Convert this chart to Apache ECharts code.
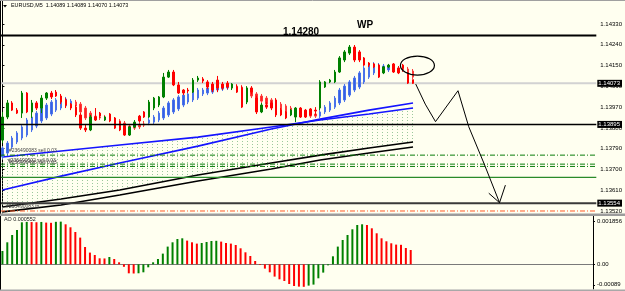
<!DOCTYPE html>
<html>
<head>
<meta charset="utf-8">
<script src="https://cdn.jsdelivr.net/npm/echarts@6/dist/echarts.min.js"></script>
<style>
html, body { margin: 0; padding: 0; background: #fffff0; }
#chart { width: 625px; height: 291px; }
</style>
</head>
<body>
<div id="chart"></div>
<script>
// EURUSD M5 bars, [open, close, low, high]
var priceBars = [
	[1.13827, 1.13927, 1.13814, 1.13949], [1.13927, 1.13988, 1.13918, 1.14001], [1.13988, 1.13957, 1.13953, 1.13996],
	[1.13957, 1.13944, 1.13940, 1.13966], [1.13944, 1.14031, 1.13923, 1.14040], [1.14031, 1.13949, 1.13944, 1.14035],
	[1.13949, 1.13988, 1.13923, 1.14001], [1.13988, 1.13966, 1.13957, 1.13996], [1.13966, 1.14009, 1.13944, 1.14022],
	[1.14009, 1.14031, 1.14001, 1.14035], [1.14031, 1.14014, 1.14005, 1.14040], [1.14035, 1.14018, 1.14014, 1.14044],
	[1.14018, 1.13992, 1.13983, 1.14027], [1.14001, 1.13979, 1.13966, 1.14009], [1.13983, 1.13966, 1.13957, 1.13988],
	[1.13970, 1.13936, 1.13927, 1.13979], [1.13936, 1.13879, 1.13871, 1.13944], [1.13879, 1.13871, 1.13862, 1.13897],
	[1.13871, 1.13927, 1.13866, 1.13936], [1.13927, 1.13914, 1.13910, 1.13966], [1.13944, 1.13931, 1.13923, 1.13949],
	[1.13914, 1.13927, 1.13910, 1.13931], [1.13940, 1.13910, 1.13905, 1.13944], [1.13923, 1.13879, 1.13875, 1.13927],
	[1.13905, 1.13871, 1.13866, 1.13910], [1.13888, 1.13849, 1.13845, 1.13897], [1.13849, 1.13884, 1.13845, 1.13888],
	[1.13884, 1.13905, 1.13879, 1.13914], [1.13931, 1.13910, 1.13905, 1.13936], [1.13949, 1.13927, 1.13923, 1.13953],
	[1.13927, 1.13992, 1.13923, 1.14001], [1.13966, 1.14009, 1.13957, 1.14014], [1.13979, 1.14014, 1.13970, 1.14018],
	[1.14014, 1.14100, 1.14009, 1.14118], [1.14100, 1.14122, 1.14096, 1.14131], [1.14122, 1.14066, 1.14061, 1.14131],
	[1.14066, 1.14031, 1.14027, 1.14079], [1.14044, 1.14031, 1.14022, 1.14048], [1.14044, 1.14040, 1.14031, 1.14053],
	[1.14035, 1.14087, 1.14031, 1.14096], [1.14087, 1.14096, 1.14079, 1.14105], [1.14092, 1.14083, 1.14074, 1.14100],
	[1.14079, 1.14057, 1.14048, 1.14087], [1.14070, 1.14044, 1.14035, 1.14079], [1.14087, 1.14053, 1.14035, 1.14105],
	[1.14070, 1.14053, 1.14044, 1.14079], [1.14074, 1.14057, 1.14048, 1.14083], [1.14053, 1.14070, 1.14044, 1.14074],
	[1.14057, 1.14035, 1.14031, 1.14066], [1.14053, 1.13970, 1.13966, 1.14061], [1.13992, 1.14053, 1.13983, 1.14061],
	[1.14053, 1.14035, 1.14027, 1.14061], [1.14009, 1.13949, 1.13940, 1.14018], [1.13949, 1.13979, 1.13944, 1.13988],
	[1.13979, 1.13970, 1.13962, 1.13992], [1.13988, 1.13966, 1.13957, 1.13996], [1.14001, 1.13936, 1.13927, 1.14009],
	[1.13957, 1.13936, 1.13931, 1.13966], [1.13949, 1.13923, 1.13918, 1.13953], [1.13936, 1.13957, 1.13931, 1.13962],
	[1.13927, 1.13966, 1.13905, 1.13970], [1.13966, 1.13927, 1.13923, 1.13970], [1.13957, 1.13927, 1.13923, 1.13962],
	[1.13962, 1.13936, 1.13931, 1.13966], [1.13957, 1.13953, 1.13936, 1.13970], [1.13966, 1.14079, 1.13957, 1.14087],
	[1.14057, 1.14079, 1.14053, 1.14083], [1.14079, 1.14087, 1.14074, 1.14092], [1.14079, 1.14122, 1.14074, 1.14131],
	[1.14122, 1.14183, 1.14118, 1.14191], [1.14174, 1.14209, 1.14165, 1.14217], [1.14204, 1.14230, 1.14196, 1.14239],
	[1.14230, 1.14174, 1.14165, 1.14239], [1.14209, 1.14174, 1.14165, 1.14217], [1.14183, 1.14152, 1.14148, 1.14187],
	[1.14161, 1.14152, 1.14144, 1.14165], [1.14157, 1.14144, 1.14139, 1.14161], [1.14152, 1.14100, 1.14096, 1.14157],
	[1.14118, 1.14144, 1.14113, 1.14148], [1.14144, 1.14152, 1.14139, 1.14157], [1.14157, 1.14122, 1.14118, 1.14161],
	[1.14139, 1.14118, 1.14113, 1.14148], [1.14152, 1.14139, 1.14131, 1.14157], [1.14118, 1.14074, 1.14070, 1.14122],
	[1.14089, 1.14073, 1.14070, 1.14089]
];

// smoothed heiken ashi bars (blue up / red down), [open, close, low, high]
var haBars = [
	[1.13754, 1.13793, 1.13745, 1.13801], [1.13771, 1.13814, 1.13762, 1.13823], [1.13797, 1.13836, 1.13789, 1.13845],
	[1.13819, 1.13858, 1.13810, 1.13866], [1.13836, 1.13884, 1.13827, 1.13892], [1.13849, 1.13914, 1.13840, 1.13923],
	[1.13871, 1.13927, 1.13862, 1.13936], [1.13888, 1.13944, 1.13879, 1.13953], [1.13910, 1.13966, 1.13901, 1.13975],
	[1.13923, 1.13979, 1.13914, 1.13988], [1.13940, 1.13992, 1.13931, 1.14001], [1.13957, 1.14001, 1.13949, 1.14009],
	[1.13966, 1.14009, 1.13957, 1.14018], [1.13975, 1.14005, 1.13966, 1.14014], [1.13983, 1.13996, 1.13975, 1.14005],
	[1.13992, 1.13975, 1.13966, 1.14001], [1.13983, 1.13949, 1.13940, 1.13992], [1.13966, 1.13923, 1.13914, 1.13975],
	[1.13944, 1.13914, 1.13905, 1.13953], [1.13931, 1.13918, 1.13910, 1.13940], [1.13927, 1.13923, 1.13914, 1.13936],
	[1.13927, 1.13918, 1.13910, 1.13936], [1.13923, 1.13914, 1.13905, 1.13931], [1.13918, 1.13901, 1.13892, 1.13927],
	[1.13910, 1.13888, 1.13879, 1.13918], [1.13901, 1.13875, 1.13866, 1.13910], [1.13888, 1.13879, 1.13871, 1.13897],
	[1.13884, 1.13879, 1.13871, 1.13892], [1.13892, 1.13884, 1.13875, 1.13905], [1.13897, 1.13892, 1.13884, 1.13910],
	[1.13901, 1.13914, 1.13892, 1.13923], [1.13905, 1.13927, 1.13897, 1.13936], [1.13914, 1.13944, 1.13905, 1.13953],
	[1.13923, 1.13966, 1.13914, 1.13975], [1.13936, 1.13988, 1.13927, 1.13996], [1.13949, 1.14001, 1.13940, 1.14009],
	[1.13962, 1.14014, 1.13953, 1.14022], [1.13979, 1.14022, 1.13970, 1.14031], [1.13992, 1.14027, 1.13983, 1.14035],
	[1.14001, 1.14035, 1.13992, 1.14044], [1.14009, 1.14044, 1.14001, 1.14053], [1.14027, 1.14044, 1.14018, 1.14053],
	[1.14031, 1.14053, 1.14022, 1.14061], [1.14035, 1.14057, 1.14027, 1.14066], [1.14044, 1.14057, 1.14035, 1.14066],
	[1.14048, 1.14057, 1.14040, 1.14066], [1.14053, 1.14066, 1.14044, 1.14074], [1.14061, 1.14053, 1.14044, 1.14070],
	[1.14061, 1.14048, 1.14040, 1.14070], [1.14057, 1.14031, 1.14022, 1.14066], [1.14044, 1.14022, 1.14014, 1.14053],
	[1.14035, 1.14018, 1.14009, 1.14044], [1.14027, 1.14001, 1.13992, 1.14035], [1.14018, 1.13996, 1.13988, 1.14027],
	[1.14009, 1.13983, 1.13975, 1.14018], [1.14001, 1.13975, 1.13966, 1.14009], [1.13992, 1.13966, 1.13957, 1.14001],
	[1.13983, 1.13953, 1.13944, 1.13992], [1.13975, 1.13949, 1.13940, 1.13983], [1.13966, 1.13944, 1.13936, 1.13975],
	[1.13957, 1.13940, 1.13931, 1.13966], [1.13953, 1.13936, 1.13927, 1.13962], [1.13949, 1.13931, 1.13923, 1.13957],
	[1.13944, 1.13931, 1.13923, 1.13953], [1.13940, 1.13931, 1.13923, 1.13949], [1.13931, 1.13949, 1.13923, 1.13957],
	[1.13949, 1.13970, 1.13940, 1.13979], [1.13957, 1.13988, 1.13949, 1.13996], [1.13970, 1.14009, 1.13962, 1.14018],
	[1.13988, 1.14044, 1.13979, 1.14053], [1.14001, 1.14061, 1.13992, 1.14070], [1.14022, 1.14079, 1.14014, 1.14087],
	[1.14044, 1.14096, 1.14035, 1.14105], [1.14057, 1.14118, 1.14048, 1.14126], [1.14079, 1.14139, 1.14070, 1.14148],
	[1.14100, 1.14152, 1.14092, 1.14161], [1.14118, 1.14157, 1.14109, 1.14165], [1.14122, 1.14152, 1.14113, 1.14161],
	[1.14126, 1.14148, 1.14118, 1.14157], [1.14131, 1.14148, 1.14122, 1.14157], [1.14131, 1.14144, 1.14122, 1.14152],
	[1.14131, 1.14139, 1.14122, 1.14148], [1.14139, 1.14131, 1.14122, 1.14148], [1.14135, 1.14113, 1.14105, 1.14144],
	[1.14126, 1.14100, 1.14092, 1.14135]
];

// awesome oscillator
var aoValues = [
	0.00058, 0.000957, 0.001275, 0.001492, 0.001827, 0.001845, 0.001838, 0.00183, 0.001842, 0.001814,
	0.001805, 0.001848, 0.001856, 0.00174, 0.00161, 0.001405, 0.001161, 0.000753, 0.000509, 0.000405,
	0.000261, 0.000255, 0.000318, 0.000231, 0.000087, -0.000109, -0.000392, -0.0004, -0.00039, -0.000348,
	-0.000131, 0.000087, 0.000231, 0.000465, 0.00077, 0.000957, 0.0011, 0.001131, 0.001031, 0.000957,
	0.0009, 0.000927, 0.00097, 0.001014, 0.001022, 0.000987, 0.000927, 0.0009, 0.00084, 0.000696,
	0.000522, 0.000361, 0.000144, -0.00003, -0.000187, -0.000348, -0.000535, -0.000653, -0.000726, -0.000857,
	-0.000944, -0.00097, -0.000979, -0.000927, -0.000883, -0.000609, -0.000361, -0.000044, 0.000348, 0.00077,
	0.001057, 0.001275, 0.001523, 0.00171, 0.00174, 0.00171, 0.001566, 0.001349, 0.001131, 0.001001,
	0.000914, 0.000857, 0.000848, 0.000709, 0.000622
];

// moving averages, read at a few bars
var maBars = [0, 12, 24, 40, 55, 65, 75, 84];
var maBlueFast = [1.13611, 1.13671, 1.13728, 1.13801, 1.13875, 1.13918, 1.13957, 1.13988];
var maBlueSlow = [1.13754, 1.13780, 1.13806, 1.13840, 1.13884, 1.13914, 1.13940, 1.13966];
var maBlackFast = [1.13537, 1.13572, 1.13611, 1.13676, 1.13728, 1.13762, 1.13793, 1.13819];
var maBlackSlow = [1.13516, 1.13546, 1.13589, 1.13650, 1.13702, 1.13741, 1.13771, 1.13797];

// horizontal levels
var levelWP = 1.14280;
var currentPrice = 1.14073;
var supportLevel = 1.13895;
var sellLevels = [1.13762, 1.13723, 1.13713];
var greenLevel = 1.13666;
var tpBox = 1.13554;
var tpLine = 1.13520;

var priceTicks = [1.14330, 1.14240, 1.14150, 1.14060, 1.13970, 1.13880, 1.13790, 1.13700, 1.13610, 1.13520];
var aoTicks = [0.001856, 0, -0.00089];
var aoTickText = ['0.001856', '0.00', '-0.00089'];

// hand drawn path, [bar, price]
var drawPath = [[84.55, 1.14070], [86.5, 1.13983], [88.6, 1.13907], [93.2, 1.14041], [95.4, 1.13885], [98.5, 1.13727], [101.7, 1.13556]];
var drawHead = [[99.5, 1.13597], [101.7, 1.13556], [102.9, 1.13632]];
var ringAt = [84.9, 1.14150];

var slotCount = 122;
var slots = [];
for (var s = 0; s < slotCount; s++) slots.push(String(s));

var bg = '#fffff0';
var smallFont = 'Liberation Sans';

function pairs(xs, ys) {
	return xs.map(function(x, k) { return [x, ys[k]]; });
}

// dotted green hatch under the slow blue line
var dots = document.createElement('canvas');
dots.width = 5; dots.height = 3;
var dctx = dots.getContext('2d');
dctx.fillStyle = '#9cc89c';
dctx.fillRect(2, 0, 1, 1);

// a horizontal level across the whole price pane, optional price box at the right
function level(value, color, width, type, z, box) {
	var ser = {
		type: 'line', xAxisIndex: 2, yAxisIndex: 0, z: z,
		data: [[-0.5, value], [slotCount - 0.5, value]],
		showSymbol: false, silent: true,
		lineStyle: { color: color, width: width, type: type }
	};
	if (box) {
		ser.endLabel = {
			show: true, distance: 1,
			formatter: value.toFixed(5),
			backgroundColor: '#000', color: '#fff',
			fontSize: 6, fontFamily: smallFont, padding: [1, 2, 0, 1]
		};
	}
	return ser;
}

var dashDot = [5, 2, 1, 2];

var chart = echarts.init(document.getElementById('chart'));
var option = {
	backgroundColor: bg,
	animation: false,
	grid: [
		{ left: 0, right: 25, top: 0, height: 213 },
		{ left: 0, right: 25, top: 216, height: 73 }
	],
	xAxis: [
		{ gridIndex: 0, type: 'category', data: slots, show: false },
		{
			gridIndex: 1, type: 'category', data: slots,
			axisLine: { lineStyle: { color: '#7a7a7a', width: 1 } },
			axisTick: { inside: true, length: 2, interval: 7, alignWithLabel: true, lineStyle: { color: '#404040' } },
			axisLabel: { show: false }
		},
		{ gridIndex: 0, type: 'value', min: -0.5, max: slotCount - 0.5, show: false }
	],
	yAxis: [
		{
			gridIndex: 0, type: 'value', position: 'right',
			min: 1.135113, max: 1.14434,
			splitLine: { show: false },
			axisLine: { show: true, lineStyle: { color: '#000' } },
			axisTick: { show: true, length: 2, customValues: priceTicks, lineStyle: { color: '#000' } },
			axisLabel: {
				customValues: priceTicks, margin: 4, fontSize: 6, fontFamily: smallFont, color: '#000',
				formatter: function(v) { return v.toFixed(5); }
			}
		},
		{
			gridIndex: 1, type: 'value', position: 'right',
			min: -0.001074, max: 0.002101,
			splitLine: { show: false },
			axisLine: { show: true, lineStyle: { color: '#000' } },
			axisTick: { show: true, length: 2, customValues: aoTicks, lineStyle: { color: '#000' } },
			axisLabel: {
				customValues: aoTicks, margin: 4, fontSize: 6, fontFamily: smallFont, color: '#000',
				formatter: function(v) {
					for (var k = 0; k < aoTicks.length; k++) {
						if (Math.abs(aoTicks[k] - v) < 1e-9) return aoTickText[k];
					}
					return '';
				}
			}
		}
	],
	series: [
		{
			// slow blue MA, hatch below it
			type: 'line', data: pairs(maBars, maBlueSlow), z: 1,
			showSymbol: false, silent: true,
			lineStyle: { color: '#1414ff', width: 1.6 },
			areaStyle: { color: { image: dots, repeat: 'repeat' }, origin: 'start', opacity: 1 }
		},
		{
			// fast black MA, clears the hatch below it
			type: 'line', data: pairs(maBars, maBlackFast), z: 2,
			showSymbol: false, silent: true,
			lineStyle: { color: '#000', width: 1.6 },
			areaStyle: { color: bg, origin: 'start', opacity: 1 }
		},
		level(currentPrice, '#d2d2d2', 2, 'solid', 2.5, true),
		{
			type: 'candlestick', data: haBars, z: 3, barWidth: 2,
			itemStyle: { color: '#3560e4', color0: '#ff2020', borderColor: '#4a72ea', borderColor0: '#ff3a3a', borderWidth: 1 }
		},
		{
			type: 'candlestick', data: priceBars, z: 4, barWidth: 2,
			itemStyle: { color: '#008000', color0: '#ff0000', borderColor: '#008000', borderColor0: '#ff0000', borderWidth: 1 }
		},
		{
			type: 'line', data: pairs(maBars, maBlueFast), z: 5,
			showSymbol: false, silent: true,
			lineStyle: { color: '#1414ff', width: 1.6 }
		},
		{
			type: 'line', data: pairs(maBars, maBlackSlow), z: 5,
			showSymbol: false, silent: true,
			lineStyle: { color: '#000', width: 1.6 }
		},
		level(levelWP, '#000', 2, 'solid', 7, false),
		level(supportLevel, '#000', 1.5, 'solid', 7, true),
		level(sellLevels[0], '#0a7d0a', 1, dashDot, 7, false),
		level(sellLevels[1], '#0a7d0a', 1, dashDot, 7, false),
		level(sellLevels[2], '#0a7d0a', 1, dashDot, 7, false),
		level(greenLevel, '#2a8a2a', 1.2, 'solid', 7, false),
		level(tpBox, '#3a3a3a', 2, 'solid', 7, true),
		level(tpLine, '#ff5a28', 1, dashDot, 7, false),
		{
			type: 'bar', xAxisIndex: 1, yAxisIndex: 1, data: aoValues, barWidth: 2, silent: true,
			itemStyle: {
				color: function(p) {
					var i = p.dataIndex;
					return i === 0 || aoValues[i] > aoValues[i - 1] ? '#008000' : '#ff0000';
				}
			}
		},
		{
			type: 'line', xAxisIndex: 2, yAxisIndex: 0, data: drawPath, z: 10,
			showSymbol: false, silent: true,
			lineStyle: { color: '#000', width: 1 }
		},
		{
			type: 'line', xAxisIndex: 2, yAxisIndex: 0, data: drawHead, z: 10,
			showSymbol: false, silent: true,
			lineStyle: { color: '#000', width: 1 }
		}
	],
	graphic: [
		{ type: 'line', shape: { x1: 0.5, y1: 0, x2: 0.5, y2: 291 }, style: { stroke: '#000', lineWidth: 1 }, z: 20 },
		{ type: 'line', shape: { x1: 0, y1: 0.5, x2: 625, y2: 0.5 }, style: { stroke: '#a0a0a0', lineWidth: 1 }, z: 20 },
		{ type: 'rect', shape: { x: 0, y: 213.5, width: 625, height: 2.5 }, style: { fill: '#9c9c9c' }, z: 20 },
		{ type: 'rect', shape: { x: 0, y: 289.5, width: 625, height: 2 }, style: { fill: '#a8a8a8' }, z: 20 },
		{ type: 'polygon', shape: { points: [[3, 5], [7, 5], [5, 7.5]] }, style: { fill: '#000' }, z: 20 },
		{ type: 'text', x: 11, y: 3, style: { text: 'EURUSD,M5  1.14089 1.14089 1.14070 1.14073', font: '5.4px ' + smallFont, fill: '#000' }, z: 20 },
		{ type: 'text', x: 283, y: 27.5, style: { text: '1.14280', font: 'bold 10px ' + smallFont, fill: '#000' }, z: 20 },
		{ type: 'text', x: 357, y: 20, style: { text: 'WP', font: 'bold 10px ' + smallFont, fill: '#000' }, z: 20 },
		{ type: 'text', x: 9, y: 148, style: { text: '#236490083 sell 0.03', font: '5px ' + smallFont, fill: '#404040' }, z: 20 },
		{ type: 'text', x: 8, y: 158.5, style: { text: '#236490502 sell 0.03', font: '5px ' + smallFont, fill: '#404040' }, z: 20 },
		{ type: 'text', x: 9, y: 160.5, style: { text: '#236490496 sell 0.03', font: '5px ' + smallFont, fill: '#404040' }, z: 20 },
		{ type: 'text', x: 6, y: 204, style: { text: '#236490083 tp', font: '5px ' + smallFont, fill: '#404040' }, z: 20 },
		{ type: 'text', x: 4, y: 217.5, style: { text: 'AO 0.000552', font: '5.4px ' + smallFont, fill: '#202020' }, z: 20 }
	]
};

chart.setOption(option);

// ring around the last bars, placed through the axes
var ringPx = chart.convertToPixel({ xAxisIndex: 2, yAxisIndex: 0 }, ringAt);
option.graphic.push({
	type: 'ellipse',
	shape: { cx: ringPx[0], cy: ringPx[1], rx: 17, ry: 9.5 },
	style: { fill: 'none', stroke: '#000', lineWidth: 1.2 },
	z: 20
});
chart.setOption(option);
</script>
